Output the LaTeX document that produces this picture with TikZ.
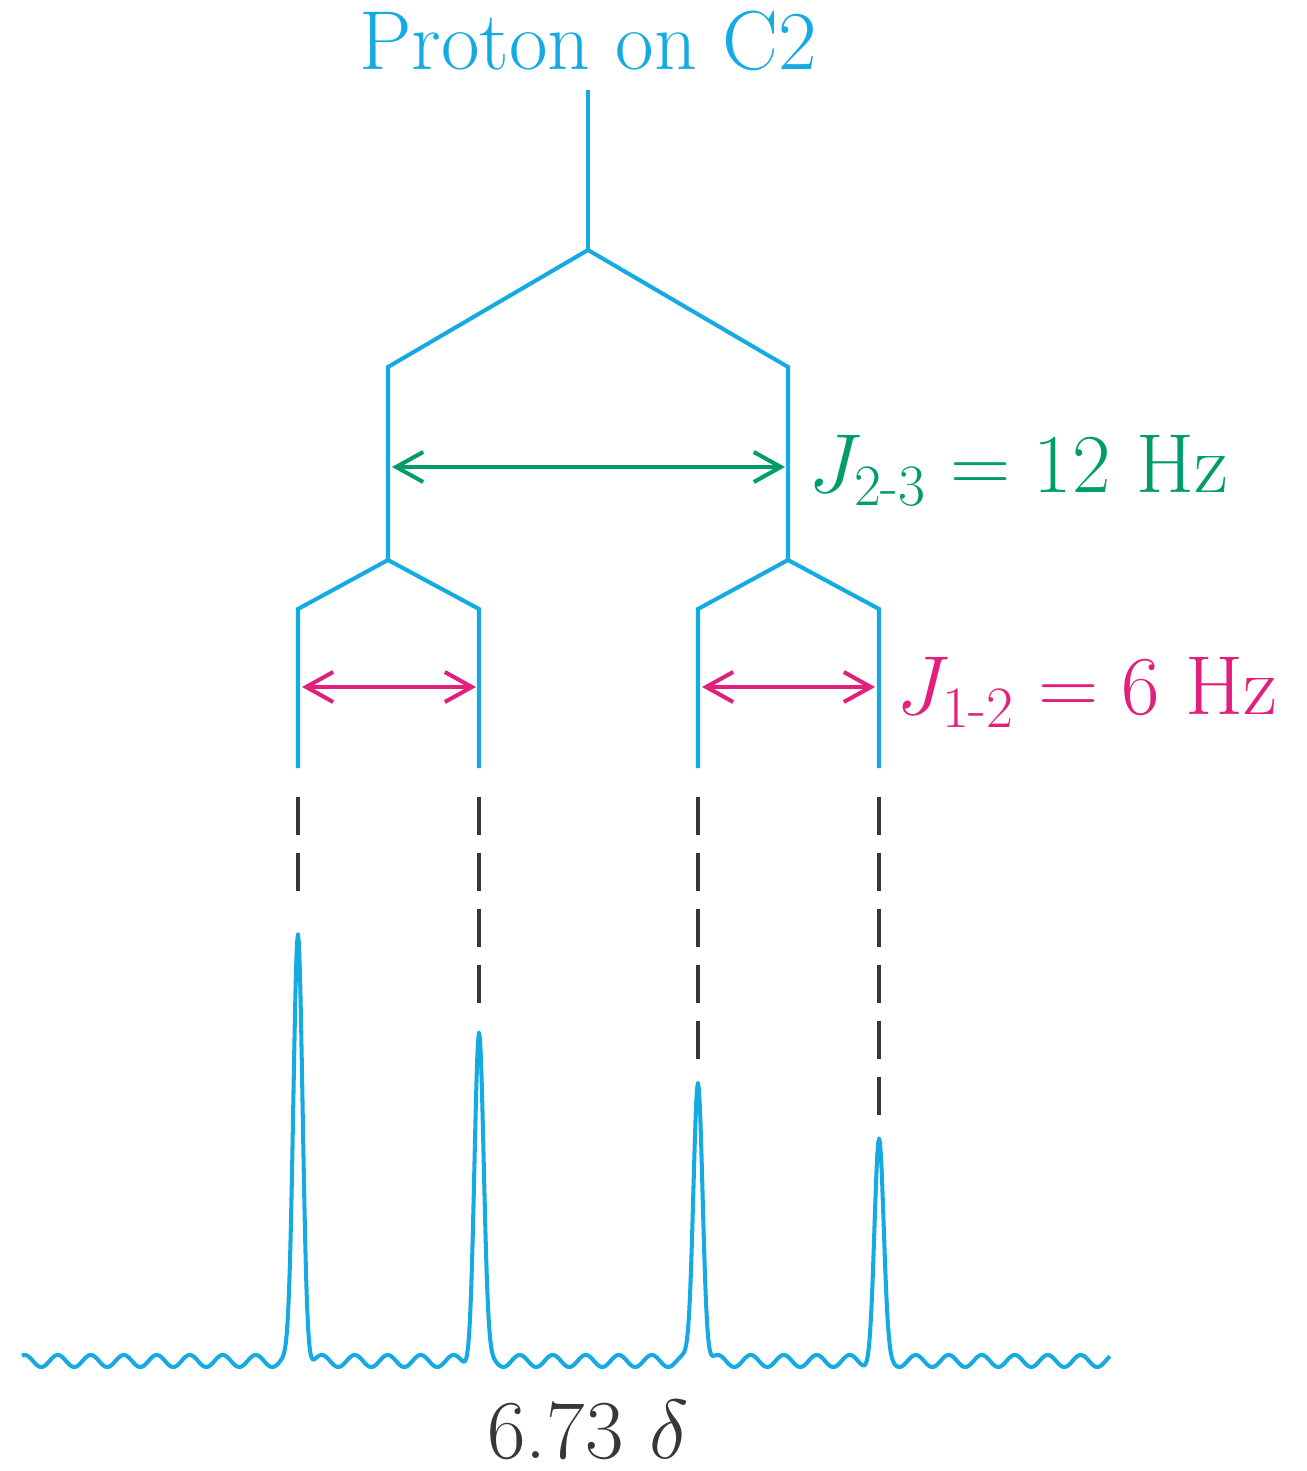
\RequirePackage{fix-cm}
\documentclass[tikz,border=0pt]{standalone}
\usepackage{amsmath}
\usetikzlibrary{positioning,arrows.meta}
\definecolor{nmrcyan}{RGB}{22,170,226}
\definecolor{nmrgreen}{RGB}{0,156,108}
\definecolor{nmrpink}{RGB}{226,32,124}
\definecolor{nmrgray}{RGB}{55,55,55}
\tikzset{
tree/.style={nmrcyan,line width=1.15pt,line join=miter},
guide/.style={nmrgray,line width=1.15pt,dash pattern=on 3.8mm off 1.8mm},
jarrow/.style={{Straight Barb[length=2.7mm,width=3mm]}-{Straight Barb[length=2.7mm,width=3mm]},line width=1.15pt},
spec/.style={nmrcyan,line width=1.15pt,line join=round},
bigtext/.style={font=\fontsize{23.8}{28}\selectfont,inner sep=0pt},
jlabel/.style={bigtext,anchor=base west},
declare function={pk(\p,\c,\h)=\h*exp(-(min(abs(\p-\c),30)/6.5)^2);}
}

\begin{document}
\begin{tikzpicture}[x=0.01cm,y=-0.01cm]
\useasboundingbox (0,0) rectangle (1306,1471);
% splitting tree
\coordinate (top) at (588,90);
\coordinate (root) at (588,250);
\coordinate (aL) at (388,367);
\coordinate (aR) at (788,367);
\coordinate (bL) at (388,560);
\coordinate (bR) at (788,560);
\coordinate (c1) at (298,609);
\coordinate (c2) at (479,609);
\coordinate (c3) at (698,609);
\coordinate (c4) at (879,609);
\coordinate (d1) at (298,768);
\coordinate (d2) at (479,768);
\coordinate (d3) at (698,768);
\coordinate (d4) at (879,768);
\node[bigtext,nmrcyan,above=1.8mm of top] (title) {Proton on C2};
\draw[tree] (top) -- (root);
\draw[tree] (bL) -- (aL) -- (root) -- (aR) -- (bR);
\draw[tree] (d1) -- (c1) -- (bL) -- (c2) -- (d2);
\draw[tree] (d3) -- (c3) -- (bR) -- (c4) -- (d4);
% coupling constants
\coordinate (gL) at (392,467);
\coordinate (gR) at (785,467);
\coordinate (m1) at (302,687);
\coordinate (m2) at (476,687);
\coordinate (m3) at (702,687);
\coordinate (m4) at (875,687);
\draw[jarrow,nmrgreen] (gL) -- (gR);
\draw[jarrow,nmrpink] (m1) -- (m2);
\draw[jarrow,nmrpink] (m3) -- (m4);
\node[jlabel,nmrgreen] (j23) at (808,493) {$J_{\text{2-3}} = 12$ Hz};
\node[jlabel,nmrpink] (j12) at (896,715) {$J_{\text{1-2}} = 6$ Hz};
% guides down to the peaks
\coordinate (e1) at (298,797);
\coordinate (e2) at (479,797);
\coordinate (e3) at (698,797);
\coordinate (e4) at (879,797);
\coordinate (f1) at (298,891);
\coordinate (f2) at (479,1003);
\coordinate (f3) at (698,1059);
\coordinate (f4) at (879,1115);
\draw[guide] (e1) -- (f1);
\draw[guide] (e2) -- (f2);
\draw[guide] (e3) -- (f3);
\draw[guide] (e4) -- (f4);
% spectrum
\draw[spec] plot[domain=22:1110,samples=1089,variable=\x]
  (\x,{1361+6*sin(\x/33*360)-pk(\x,298,428)-pk(\x,479,328)-pk(\x,698,283)-pk(\x,879,218)});
\node[bigtext,nmrgray,anchor=base] (shift) at (588,1458) {6.73~$\delta$};
\end{tikzpicture}
\end{document}
